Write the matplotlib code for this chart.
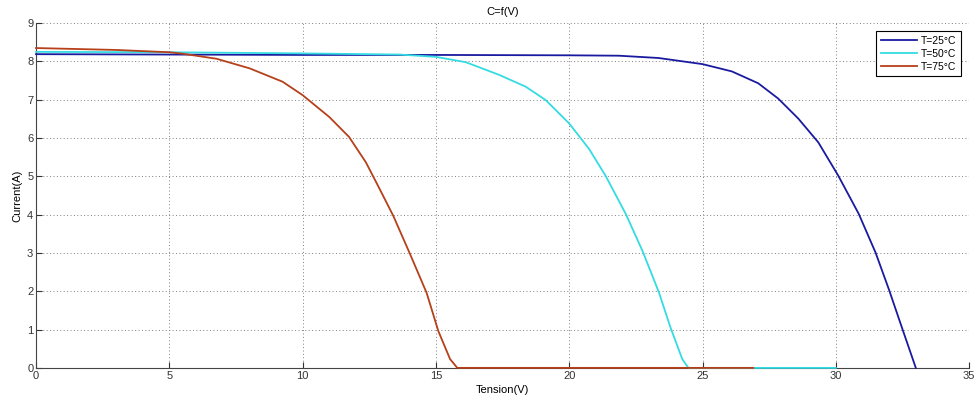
import numpy as np
import matplotlib
matplotlib.use("Agg")
import matplotlib.pyplot as plt

plt.rcParams["font.family"] = ["Liberation Sans Narrow", "Liberation Sans", "DejaVu Sans"]

# I-V curves (Tension in V, Current in A)
v_25 = [0, 5, 10, 15, 20, 21.86, 23.35, 25.0, 26.1, 27.09, 27.84, 28.59, 29.34,
        30.09, 30.86, 31.49, 31.99, 32.48, 33.0]
i_25 = [8.19, 8.18, 8.17, 8.17, 8.16, 8.15, 8.09, 7.93, 7.74, 7.43, 7.03, 6.51,
        5.89, 5.02, 4.02, 3.01, 2.05, 1.05, 0.0]

v_50 = [0, 5, 10, 13.63, 15, 16.12, 17.37, 18.37, 19.12, 20.0, 20.74, 21.36,
        22.12, 22.75, 23.37, 23.8, 24.24, 24.47, 30.0]
i_50 = [8.25, 8.24, 8.21, 8.18, 8.12, 7.98, 7.65, 7.34, 6.99, 6.38, 5.72, 5.02,
        4.02, 3.05, 1.96, 1.05, 0.23, 0.0, 0.0]

v_75 = [0, 3, 5, 5.52, 6.77, 8.01, 9.25, 10, 11.0, 11.74, 12.37, 12.86, 13.4,
        14.03, 14.65, 15.09, 15.53, 15.8, 26.9]
i_75 = [8.35, 8.30, 8.24, 8.20, 8.07, 7.82, 7.47, 7.12, 6.55, 6.03, 5.37, 4.71,
        3.97, 2.97, 1.96, 0.96, 0.23, 0.0, 0.0]

labels = ["T=25°C", "T=50°C", "T=75°C"]
colors = ["#1a1aa0", "#34dce2", "#b5401a"]

fig = plt.figure(figsize=(9.74, 3.99), dpi=100)
ax = fig.add_axes([0.037, 0.078, 0.958, 0.864])

for v, i, lab, c in zip([v_25, v_50, v_75], [i_25, i_50, i_75], labels, colors):
    ax.plot(v, i, color=c, linewidth=1.3, label=lab, zorder=3, clip_on=False,
            solid_joinstyle="round")

ax.set_xlim(0, 35)
ax.set_ylim(0, 9)
ax.set_xticks(np.arange(0, 36, 5))
ax.set_yticks(np.arange(0, 10, 1))
ax.grid(True, linestyle=(0, (1, 2.5)), color="#808080", linewidth=0.7)
ax.tick_params(direction="in", length=4, labelsize=8, colors="#333333", pad=2)
for side in ["top", "right"]:
    ax.spines[side].set_visible(False)
for side in ["left", "bottom"]:
    ax.spines[side].set_color("#444444")
    ax.spines[side].set_zorder(2)

ax.set_title("C=f(V)", fontsize=8, pad=6)
ax.set_xlabel("Tension(V)", fontsize=8, labelpad=3)
ax.set_ylabel("Current(A)", fontsize=8, labelpad=3)

leg = ax.legend(loc="upper right", fontsize=7.5, fancybox=False, framealpha=1,
                edgecolor="black", borderaxespad=0.8, handlelength=3.5,
                labelspacing=0.3, handletextpad=0.4, borderpad=0.4)
leg.get_frame().set_linewidth(0.8)
leg.set_zorder(5)

fig.savefig("out.png", dpi=100)
